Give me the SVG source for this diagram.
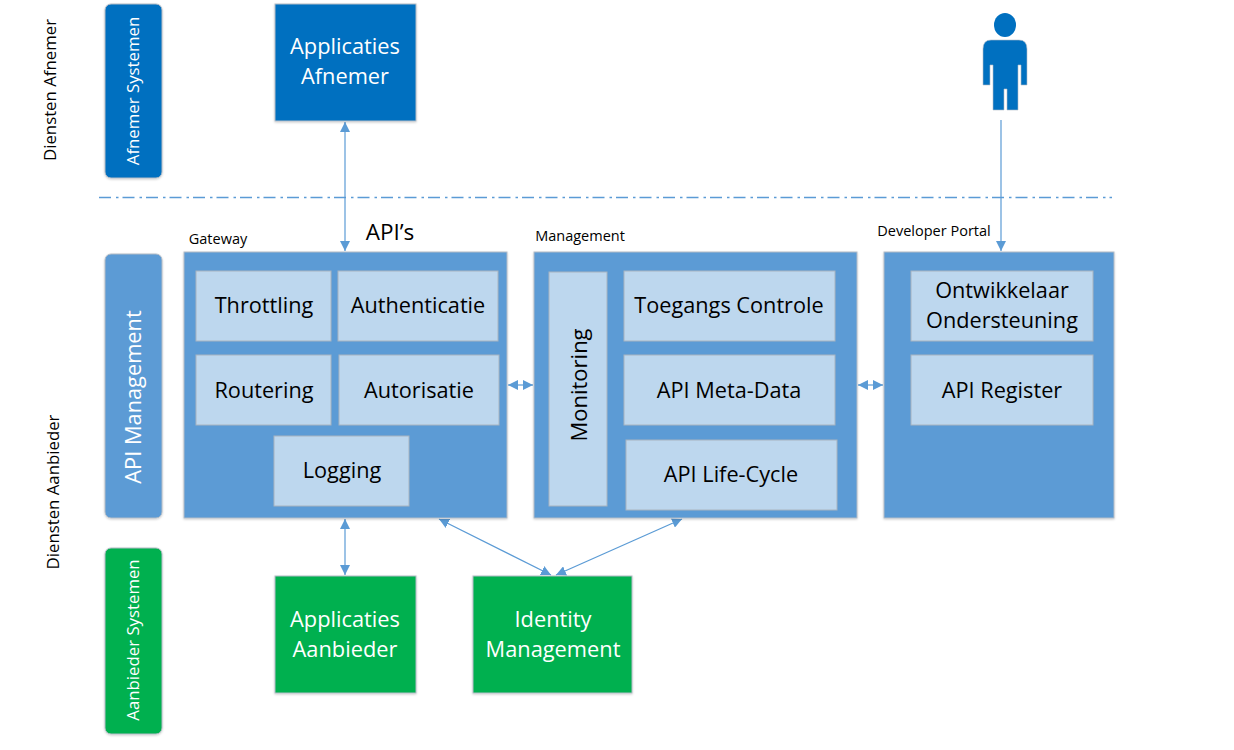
<svg xmlns="http://www.w3.org/2000/svg" width="1234" height="750" viewBox="0 0 1234 750">
<defs>
<marker id="a" viewBox="0 0 10 10" refX="10" refY="5" markerWidth="10" markerHeight="10" markerUnits="userSpaceOnUse" orient="auto-start-reverse"><path d="M0 0L10 5L0 10Z" fill="#5b9bd5"/></marker>
<filter id="s" x="-10%" y="-10%" width="120%" height="120%"><feDropShadow dx="0" dy="1" stdDeviation="1" flood-color="#000" flood-opacity="0.2"/></filter>
</defs>
<style>
text{font-family:"Open Sans","Noto Sans","Liberation Sans",sans-serif;text-anchor:middle;dominant-baseline:central}
.c{stroke:#5b9bd5;stroke-width:1.2;fill:none;marker-start:url(#a);marker-end:url(#a)}
.o{fill:#0070c0;stroke:#b4bcc6;stroke-width:1;filter:url(#s)}
.g{fill:#00b050;stroke:#b4bcc6;stroke-width:1;filter:url(#s)}
.b{fill:#5b9bd5;stroke:#b4bcc6;stroke-width:1;filter:url(#s)}
.l{fill:#bdd7ee;stroke:#a8b4c0;stroke-width:1}
.w{fill:#fff;font-size:21.8px}
.d{fill:#000;font-size:21.7px}
.t{fill:#000;font-size:14.5px}
.v{fill:#000;font-size:16.8px}
.sw{fill:#fff;font-size:16.8px}
</style>
<g id="connectors">
<path d="M99 197.500H1112" stroke="#5b9bd5" stroke-width="1.3" stroke-dasharray="12 5 2.500 4" fill="none"/>
<path class="c" d="M345 122V251"/>
<path d="M1001 120V251" stroke="#5b9bd5" stroke-width="1.2" fill="none" marker-end="url(#a)"/>
<path class="c" d="M508 385H533"/>
<path class="c" d="M858 385H883"/>
<path class="c" d="M345 519V575"/>
<path class="c" d="M439 519L551 575"/>
<path class="c" d="M682 519L556 575"/>
</g>
<g id="label-afnemer"><text class="v" transform="translate(49.500 90) rotate(-90)">Diensten Afnemer</text></g>
<g id="label-aanbieder"><text class="v" transform="translate(52.500 492) rotate(-90)">Diensten Aanbieder</text></g>
<g id="afnemer-systemen"><rect class="o" x="105" y="4" width="57" height="174" rx="6"/><text class="sw" transform="translate(132.500 91) rotate(-90)">Afnemer Systemen</text></g>
<g id="api-management"><rect class="b" x="105" y="254" width="57" height="264" rx="6"/><text class="w" transform="translate(132.500 397) rotate(-90)">API Management</text></g>
<g id="aanbieder-systemen"><rect class="g" x="105" y="548" width="57" height="186" rx="6"/><text class="sw" transform="translate(132.500 640) rotate(-90)">Aanbieder Systemen</text></g>
<g id="applicaties-afnemer"><rect class="o" x="275" y="4" width="141" height="117"/><text class="w" x="345" y="45">Applicaties</text><text class="w" x="345" y="75">Afnemer</text></g>
<g id="person"><ellipse cx="1005" cy="25" rx="11" ry="12" fill="#0070c0"/><path d="M991 40H1019Q1027 40 1027 49V85H1021V65H1018V110H1007V89H1004V110H993V65H990V85H983V49Q983 40 991 40Z" fill="#0070c0" stroke="#b4bcc6" stroke-width="0.6"/></g>
<g id="apis"><text x="390" y="231" fill="#000" font-size="22.5">API’s</text></g>
<g id="gateway">
<text class="t" x="218" y="238">Gateway</text>
<rect class="b" x="184" y="252" width="323" height="266"/>
<g id="throttling"><rect class="l" x="196" y="271" width="135" height="70"/><text class="d" x="264" y="304.500">Throttling</text></g>
<g id="authenticatie"><rect class="l" x="338" y="271" width="160" height="70"/><text class="d" x="418" y="304.500">Authenticatie</text></g>
<g id="routering"><rect class="l" x="196" y="355" width="135" height="70"/><text class="d" x="264" y="389">Routering</text></g>
<g id="autorisatie"><rect class="l" x="339" y="355" width="160" height="70"/><text class="d" x="419" y="389">Autorisatie</text></g>
<g id="logging"><rect class="l" x="274" y="436" width="135" height="70"/><text class="d" x="342" y="469">Logging</text></g>
</g>
<g id="management">
<text class="t" x="580" y="235">Management</text>
<rect class="b" x="534" y="252" width="323" height="266"/>
<g id="monitoring"><rect class="l" x="549" y="272" width="58" height="234"/><text class="d" transform="translate(578 385) rotate(-90)" style="font-size:22px">Monitoring</text></g>
<g id="toegangs-controle"><rect class="l" x="624" y="271" width="211" height="70"/><text class="d" x="729" y="304.500">Toegangs Controle</text></g>
<g id="api-meta-data"><rect class="l" x="624" y="355" width="211" height="70"/><text class="d" x="729" y="389">API Meta-Data</text></g>
<g id="api-life-cycle"><rect class="l" x="626" y="440" width="211" height="70"/><text class="d" x="731" y="473">API Life-Cycle</text></g>
</g>
<g id="developer-portal">
<text class="t" x="934" y="230">Developer Portal</text>
<rect class="b" x="884" y="252" width="230" height="266"/>
<g id="ontwikkelaar"><rect class="l" x="911" y="271" width="182" height="70"/><text class="d" x="1002" y="289">Ontwikkelaar</text><text class="d" x="1002" y="319">Ondersteuning</text></g>
<g id="api-register"><rect class="l" x="911" y="355" width="182" height="70"/><text class="d" x="1002" y="389">API Register</text></g>
</g>
<g id="applicaties-aanbieder"><rect class="g" x="275" y="576" width="141" height="117"/><text class="w" x="345" y="618">Applicaties</text><text class="w" x="345" y="648">Aanbieder</text></g>
<g id="identity-management"><rect class="g" x="473" y="576" width="159" height="117"/><text class="w" x="553" y="618">Identity</text><text class="w" x="553" y="648">Management</text></g>
</svg>
